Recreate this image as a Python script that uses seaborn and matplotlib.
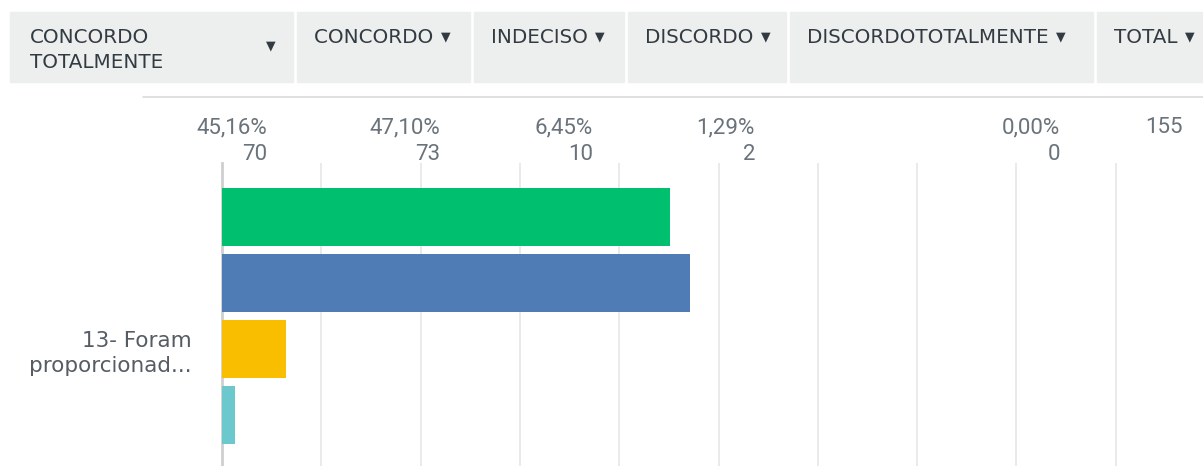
import numpy as np
import pandas as pd
import seaborn as sns
import matplotlib.pyplot as plt
from matplotlib.patches import Rectangle

answers = ["CONCORDO TOTALMENTE", "CONCORDO", "INDECISO", "DISCORDO", "DISCORDOTOTALMENTE"]
pcts = [45.16, 47.10, 6.45, 1.29, 0.00]
counts = [70, 73, 10, 2, 0]
total = 155
question = "13- Foram\nproporcionad..."
header_labels = ["CONCORDO", "CONCORDO", "INDECISO", "DISCORDO", "DISCORDOTOTALMENTE", "TOTAL"]
pct_labels = ["45,16%", "47,10%", "6,45%", "1,29%", "0,00%"]
colors = ["#00BF6F", "#507CB6", "#F9BE00", "#6BC8CD", "#A3A3A3"]

df = pd.DataFrame({"question": [question] * len(answers), "answer": answers, "pct": pcts})

W, H = 1203, 466
sns.set_theme(style="white")
plt.rcParams["font.family"] = ["DejaVu Sans"]
fig = plt.figure(figsize=(W / 100, H / 100), dpi=100)

# header band
cols = [(10, 293), (297, 470), (474, 624), (628, 786), (790, 1093), (1097, 1203)]
for x0, x1 in cols:
    fig.patches.append(Rectangle((x0 / W, 1 - 82 / H), (x1 - x0) / W, 70 / H,
                                 transform=fig.transFigure, color="#EDEEEE", zorder=0))
hc = "#333B42"
hs = 14.3
fig.text(30 / W, 1 - 43 / H, "CONCORDO", fontsize=hs, color=hc, va="baseline")
fig.text(30 / W, 1 - 68 / H, "TOTALMENTE", fontsize=hs, color=hc, va="baseline")
fig.text(271 / W, 1 - 49 / H, "▼", fontsize=9, color=hc, ha="center", va="baseline")
for (x0, x1), lab in zip(cols[1:], header_labels[1:]):
    t = fig.text((x0 + 17) / W, 1 - 43 / H, lab + " ", fontsize=hs, color=hc, va="baseline")
    fig.canvas.draw()
    bb = t.get_window_extent()
    fig.text((bb.x1 + 1) / W, 1 - 40 / H, "▼", fontsize=9, color=hc, va="baseline")

# separator line under header
fig.add_artist(plt.Line2D([143 / W, 1], [1 - 97 / H, 1 - 97 / H], color="#DADADA", lw=1.2))

# counts and percentages
nc = "#6A737B"
nf = dict(fontsize=16, family="Roboto", fontweight="normal", color=nc, ha="right", va="baseline")
right_x = [267, 440, 593, 755, 1060]
for rx, p, c in zip(right_x, pct_labels, counts):
    fig.text(rx / W, 1 - 133 / H, p, **nf)
    fig.text(rx / W, 1 - 160 / H, str(c), **nf)
fig.text(1183 / W, 1 - 133 / H, str(total), **nf)

# bar chart
ax = fig.add_axes([222 / W, 0, (W - 222) / W, 303 / H])
sns.barplot(data=df, x="pct", y="question", hue="answer", palette=colors, saturation=1,
            width=0.8, gap=0.12, ax=ax, legend=False, edgecolor="none", zorder=3)
ax.set_xlim(0, (W - 222) / 9.93)
ax.set_ylim(0.284, -0.451)
ax.set_xticks(np.arange(0, 100, 10))
ax.xaxis.grid(True, color="#E6E6E6", lw=1.2)
ax.set_xticklabels([])
ax.tick_params(axis="x", length=0)
ax.set_xlabel("")
ax.set_ylabel("")
for s in ["top", "right", "bottom"]:
    ax.spines[s].set_visible(False)
ax.spines["left"].set_color("#CFCFCF")
ax.spines["left"].set_linewidth(2)
ax.set_yticks([0])
ax.set_yticklabels([question], fontsize=15.5, color="#555C63", ha="right", linespacing=1.3)
ax.tick_params(axis="y", length=0, pad=22)

fig.savefig("out.png", dpi=100)
